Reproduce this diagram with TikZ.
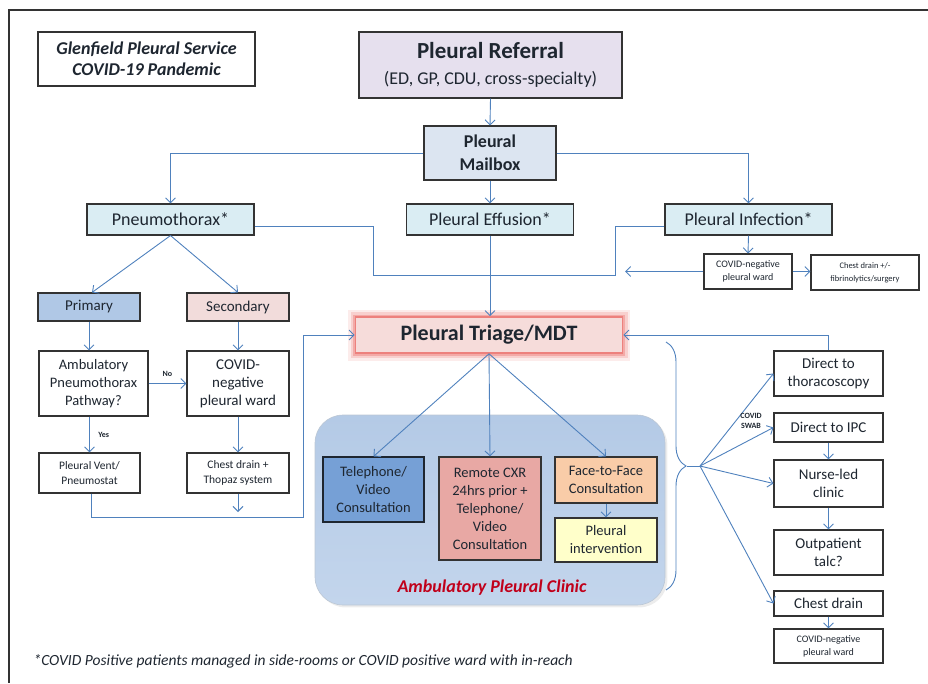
\documentclass[tikz,border=0pt]{standalone}
\usepackage{fontspec}
\setmainfont{Carlito}
\usetikzlibrary{arrows.meta,decorations.pathreplacing,shadows}

\definecolor{linkblue}{HTML}{4F81BD}
\definecolor{boxline}{HTML}{333333}
\definecolor{inktext}{HTML}{1E2630}
\definecolor{referralfill}{HTML}{E6E0EE}
\definecolor{mailfill}{HTML}{DCE5F1}
\definecolor{typefill}{HTML}{DAEDF3}
\definecolor{primfill}{HTML}{B0C8E6}
\definecolor{secfill}{HTML}{F2DCDB}
\definecolor{triagefill}{HTML}{F6DCDA}
\definecolor{glowred}{HTML}{E8625C}
\definecolor{clinictop}{HTML}{B4CAE6}
\definecolor{clinicbot}{HTML}{C3D5EC}
\definecolor{telefill}{HTML}{76A0D6}
\definecolor{cxrfill}{HTML}{E8A8A4}
\definecolor{facefill}{HTML}{F9CCA8}
\definecolor{intfill}{HTML}{FFFFCA}
\definecolor{clinictext}{HTML}{C0001A}

\tikzset{
  box/.style={draw=boxline, line width=1.1pt, fill=white, align=center,
    inner sep=0pt, text=inktext},
  link/.style={draw=linkblue, line width=0.9pt,
    -{Straight Barb[length=5pt,width=10pt]}},
  plain/.style={draw=linkblue, line width=0.9pt},
  tag/.style={font=\bfseries\fontsize{8pt}{10pt}\selectfont, text=inktext, align=center},
  triagebox/.style={box, fill=triagefill, draw=glowred!80, line width=1.6pt,
    preaction={draw=glowred, line width=15pt, opacity=0.12},
    preaction={draw=glowred, line width=10pt, opacity=0.2},
    preaction={draw=glowred, line width=5pt, opacity=0.35}},
}

\begin{document}
\begin{tikzpicture}[x=1pt, y=-1pt]
  \useasboundingbox (0,0) rectangle (928,683);
  % frame
  \draw[line width=1.3pt, boxline] (928,10) -- (9,10) -- (9,683);

  % header
  \node[box, minimum width=217pt, minimum height=54pt,
    font=\bfseries\itshape\fontsize{18pt}{21pt}\selectfont] (title) at (146.5,59)
    {Glenfield Pleural Service\\COVID-19 Pandemic};
  \node[box, fill=referralfill, minimum width=263pt, minimum height=66pt] (referral) at (490.5,65)
    {\bfseries\fontsize{23pt}{28pt}\selectfont Pleural Referral\\[11pt]
     \mdseries\fontsize{18pt}{20pt}\selectfont (ED, GP, CDU, cross-specialty)};
  \node[box, fill=mailfill, minimum width=132pt, minimum height=54pt,
    font=\bfseries\fontsize{18pt}{23pt}\selectfont] (mailbox) at (490,153) {Pleural\\Mailbox};

  % referral types
  \foreach \n/\x/\t in {pneumo/170.5/Pneumothorax*, effusion/490/Pleural Effusion*,
                        infection/748.5/Pleural Infection*} {
    \node[box, fill=typefill, minimum width=167pt, minimum height=31pt,
      font=\fontsize{18pt}{21pt}\selectfont] (\n) at (\x,219.5) {\t};
  }
  \node[box, minimum width=88pt, minimum height=35pt,
    font=\fontsize{10pt}{13pt}\selectfont] (ward1) at (748,271.5) {COVID-negative\\pleural ward};
  \node[box, minimum width=108pt, minimum height=35pt,
    font=\fontsize{8.5pt}{13pt}\selectfont] (drain1) at (865,272.5) {Chest drain +/-\\fibrinolytics/surgery};

  % pneumothorax branch
  \node[box, fill=primfill, minimum width=102pt, minimum height=28pt,
    font=\fontsize{15pt}{18pt}\selectfont] (primary) at (89,307) {Primary};
  \node[box, fill=secfill, minimum width=102pt, minimum height=28pt,
    font=\fontsize{15pt}{18pt}\selectfont] (secondary) at (238,307) {Secondary};
  \node[box, minimum width=109pt, minimum height=65pt,
    font=\fontsize{14.5pt}{18pt}\selectfont] (ambul) at (93.5,383.5)
    {Ambulatory\\Pneumothorax\\Pathway?};
  \node[box, minimum width=102pt, minimum height=65pt,
    font=\fontsize{15pt}{18pt}\selectfont] (covidneg) at (238,383.5)
    {COVID-\\negative\\pleural ward};
  \node[box, minimum width=101pt, minimum height=40pt,
    font=\fontsize{11.5pt}{15pt}\selectfont] (vent) at (89.5,473) {Pleural Vent/\\Pneumostat};
  \node[box, minimum width=102pt, minimum height=40pt,
    font=\fontsize{11.5pt}{15pt}\selectfont] (thopaz) at (238,473) {Chest drain +\\Thopaz system};

  % triage and clinic
  \node[triagebox, minimum width=267pt, minimum height=36pt,
    font=\bfseries\fontsize{22pt}{26pt}\selectfont] (triage) at (489,335) {Pleural Triage/MDT};
  \node[draw=clinictop!80!black!60, line width=0.6pt, rounded corners=28pt,
    top color=clinictop, bottom color=clinicbot, drop shadow={opacity=0.15},
    minimum width=350pt, minimum height=190pt] (clinic) at (490,510) {};
  \node[font=\bfseries\itshape\fontsize{18pt}{21pt}\selectfont, text=clinictext]
    (cliniclabel) at (492,588) {Ambulatory Pleural Clinic};
  \node[box, fill=telefill, draw=inktext, minimum width=101pt, minimum height=65pt,
    font=\fontsize{14.5pt}{18pt}\selectfont] (tele) at (373.5,489.5)
    {Telephone/\\Video\\Consultation};
  \node[box, fill=cxrfill, minimum width=102pt, minimum height=103pt,
    font=\fontsize{14.5pt}{18pt}\selectfont] (cxr) at (490,508.5)
    {Remote CXR\\24hrs prior +\\Telephone/\\Video\\Consultation};
  \node[box, fill=facefill, minimum width=102pt, minimum height=46pt,
    font=\fontsize{14.5pt}{18pt}\selectfont] (face) at (606,480)
    {Face-to-Face\\Consultation};
  \node[box, fill=intfill, minimum width=102pt, minimum height=44pt,
    font=\fontsize{14.5pt}{18pt}\selectfont] (interv) at (606,540)
    {Pleural\\intervention};

  % right column
  \foreach \n/\y/\h/\t in {thoraco/373.5/45/Direct to\\thoracoscopy, ipc/427.5/29/Direct to IPC,
                           nurse/483.5/47/Nurse-led\\clinic, talc/552.5/45/Outpatient\\talc?,
                           drain2/603.5/25/Chest drain} {
    \node[box, minimum width=109pt, minimum height=\h pt,
      font=\fontsize{15pt}{18pt}\selectfont] (\n) at (828.5,\y) {\t};
  }
  \node[box, minimum width=109pt, minimum height=34pt,
    font=\fontsize{10pt}{13pt}\selectfont] (ward2) at (828.5,646) {COVID-negative\\pleural ward};

  % footnote
  \node[anchor=west, font=\itshape\fontsize{15.5pt}{18pt}\selectfont, text=inktext] (note) at (30,661)
    {*COVID Positive patients managed in side-rooms or COVID positive ward with in-reach};

  % helper points
  \coordinate (merge) at (490,275);
  \coordinate (pleft) at (373,275);
  \coordinate (pright) at (615,275);
  \coordinate (wardend) at (625,271.5);
  \coordinate (thopazend) at (238,512);
  \coordinate (loopcorner) at (303,517);
  \coordinate (bracetop) at (666,342);
  \coordinate (bracebot) at (666,590);
  \coordinate (bracetip) at (687,466);
  \coordinate (swab) at (700,466);

  % connectors
  \draw[link] (referral.south) -- (mailbox.north);
  \draw[link] (mailbox.west) -| (pneumo.north);
  \draw[link] (mailbox.east) -| (infection.north);
  \draw[link] (mailbox.south) -- (effusion.north);
  \draw[link] (effusion.south) -- (effusion.south |- triage.north);
  \draw[plain] ([yshift=-7pt]pneumo.east) -| (pleft) -- (merge);
  \draw[plain] ([yshift=-7pt]infection.west) -| (pright) -- (merge);
  \draw[link] (infection.south) -- (ward1.north);
  \draw[link] (ward1.west) -- (wardend);
  \draw[link] (ward1.east) -- (ward1.east -| drain1.west);

  \draw[link] (pneumo.south) -- ([xshift=3pt]primary.north);
  \draw[link] (pneumo.south) -- (secondary.north);
  \draw[link] (primary.south) -- (primary.south |- ambul.north);
  \draw[link] (secondary.south) -- (covidneg.north);
  \draw[link] (ambul.east) -- node[tag, above=3pt] {No} (covidneg.west);
  \draw[link] (vent.north |- ambul.south) -- node[tag, right=5pt] {Yes} (vent.north);
  \draw[link] (covidneg.south) -- (thopaz.north);
  \draw[link] (thopaz.south) -- (thopazend);
  \draw[link] ([xshift=1.5pt]vent.south) |- (loopcorner) |- (triage.west);

  \draw[link] (triage.south) -- (tele.north);
  \draw[link] (triage.south) -- (cxr.north);
  \draw[link] (triage.south) -- (face.north);
  \draw[link] (face.south) -- (interv.north);

  \draw[link] (thoraco.north) |- (triage.east);
  \draw[plain, decorate, decoration={brace, amplitude=20pt, aspect=0.5}]
    (bracetop) -- (bracebot);
  \draw[plain] (bracetip) -- (swab);
  \foreach \t in {thoraco, ipc, nurse, drain2} {
    \draw[link] (swab) -- (\t.west);
  }
  \node[tag] (swablabel) at (751,421) {COVID\\SWAB};
  \draw[link] (ipc.south) -- (nurse.north);
  \draw[link] (nurse.south) -- (talc.north);
  \draw[link] (drain2.south) -- (ward2.north);
\end{tikzpicture}
\end{document}
